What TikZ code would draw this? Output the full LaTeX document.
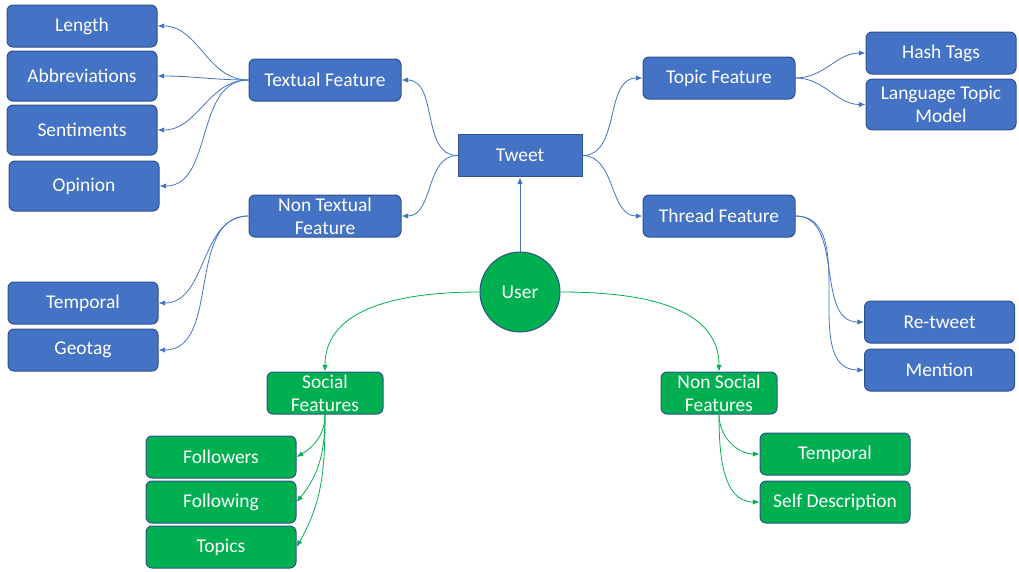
\documentclass[tikz,border=0pt]{standalone}
\usepackage{fontspec}
\setmainfont{Carlito}
\usetikzlibrary{arrows.meta}
\definecolor{bfill}{HTML}{4472C4}
\definecolor{bline}{HTML}{2F528F}
\definecolor{gfill}{HTML}{00B050}
\definecolor{bconn}{HTML}{4472C4}
\definecolor{gconn}{HTML}{00B050}
\begin{document}
\begin{tikzpicture}[x=0.75pt,y=-0.75pt,
  box/.style={rounded corners=4.5pt, draw=bline, line width=0.75pt, text=white, inner sep=0pt,
    minimum width=112.5pt, minimum height=31.5pt, align=center, font=\fontsize{14.6}{17.5}\selectfont},
  bbox/.style={box, fill=bfill},
  gbox/.style={box, fill=gfill},
  bc/.style={draw=bconn, line width=0.6pt, -{Latex[length=5pt,width=4pt]}},
  gc/.style={draw=gconn, line width=0.6pt, -{Latex[length=5pt,width=4pt]}}
]
\useasboundingbox (0,0) rectangle (1019,571);
% left blue leaves
\node[bbox, minimum height=31.5pt] (length) at (82,26) {Length};
\node[bbox, minimum height=37.5pt] (abbr) at (82,76) {Abbreviations};
\node[bbox, minimum height=37.5pt] (sent) at (82,130) {Sentiments};
\node[bbox, minimum height=37.5pt] (opin) at (84,186) {Opinion};
\node[bbox] (ltemp) at (83,303) {Temporal};
\node[bbox] (geo) at (83,350) {Geotag};
% middle
\node[bbox, minimum width=114pt] (textual) at (325,80) {Textual Feature};
\node[bbox, minimum width=114pt] (nontextual) at (325,216) {Non Textual\\Feature};
\node[bbox, rounded corners=0pt, minimum width=93pt, minimum height=32pt] (tweet) at (520,155.5) {Tweet};
\node[bbox, minimum width=114pt] (topic) at (719,78) {Topic Feature};
\node[bbox, minimum width=114pt] (thread) at (719,216) {Thread Feature};
% right blue leaves
\node[bbox] (hash) at (941,53) {Hash Tags};
\node[bbox, minimum height=38pt] (ltm) at (941,104.5) {Language Topic\\Model};
\node[bbox] (retweet) at (939.5,322) {Re-tweet};
\node[bbox] (mention) at (939.5,370) {Mention};
% user
\node[circle, draw=bline, line width=0.75pt, fill=gfill, text=white, inner sep=0pt,
  minimum size=60pt, font=\fontsize{14.6}{17.5}\selectfont] (user) at (520,292) {User};
\node[gbox, minimum width=87pt] (social) at (325,393) {Social\\Features};
\node[gbox, minimum width=87pt] (nonsocial) at (719,393) {Non Social\\Features};
\node[gbox] (followers) at (221,457) {Followers};
\node[gbox] (following) at (221,502) {Following};
\node[gbox] (topics) at (221,547) {Topics};
\node[gbox] (rtemp) at (835,454) {Temporal};
\node[gbox] (selfd) at (835,502) {Self Description};
% connectors blue
\draw[bc] (user.north) -- (tweet.south);
\draw[bc] (tweet.west) to[out=180,in=0] (textual.east);
\draw[bc] (tweet.west) to[out=180,in=0] (nontextual.east);
\draw[bc] (tweet.east) to[out=0,in=180] (topic.west);
\draw[bc] (tweet.east) to[out=0,in=180] (thread.west);
\draw[bc] (textual.west) to[out=180,in=0] (length.east);
\draw[bc] (textual.west) to[out=180,in=0] (abbr.east);
\draw[bc] (textual.west) to[out=180,in=0] (sent.east);
\draw[bc] (textual.west) to[out=180,in=0] (opin.east);
\draw[bc] (nontextual.west) to[out=180,in=0] (ltemp.east);
\draw[bc] (nontextual.west) to[out=180,in=0] (geo.east);
\draw[bc] (topic.east) to[out=0,in=180] (hash.west);
\draw[bc] (topic.east) to[out=0,in=180] (ltm.west);
\draw[bc] (thread.east) to[out=0,in=180] (retweet.west);
\draw[bc] (thread.east) to[out=0,in=180] (mention.west);
% connectors green
\draw[gc] (user.west) to[out=180,in=90] (social.north);
\draw[gc] (user.east) to[out=0,in=90] (nonsocial.north);
\draw[gc] (social.south) to[out=-90,in=30] (followers.east);
\draw[gc] (social.south) to[out=-90,in=50] (following.east);
\draw[gc] (social.south) to[out=-90,in=60] (topics.east);
\draw[gc] (nonsocial.south) to[out=-90,in=180] (rtemp.west);
\draw[gc] (nonsocial.south) to[out=-90,in=180] (selfd.west);
\end{tikzpicture}
\end{document}
